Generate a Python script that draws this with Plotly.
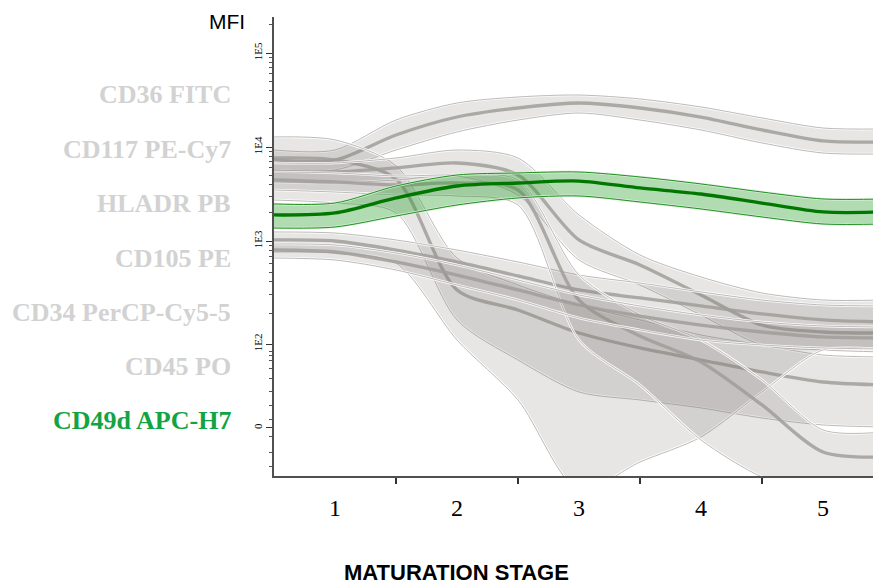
import plotly.graph_objects as go

# Maturation stages (x positions sampled every half stage)
stage_pos = [0.5, 1, 1.5, 2, 2.5, 3, 3.5, 4, 4.5, 5, 5.5]
stage_labels = ["1", "2", "3", "4", "5"]

# Values on the cytometry display scale (decades: 3 = 1E3, 4 = 1E4 ...)
cd36_up  = [3.968, 3.968, 4.287, 4.468, 4.532, 4.553, 4.511, 4.426, 4.309, 4.202, 4.192]
cd36_mid = [3.862, 3.862, 4.128, 4.319, 4.415, 4.468, 4.415, 4.319, 4.181, 4.064, 4.053]
cd36_lo  = [3.756, 3.756, 3.968, 4.160, 4.287, 4.362, 4.287, 4.181, 4.043, 3.936, 3.926]

cd34_up  = [4.107, 4.075, 3.800, 2.819, 2.532, 2.319, 2.160, 2.000, 1.894, 1.787, 1.766]
cd34_mid = [3.883, 3.862, 3.660, 2.479, 2.266, 2.021, 1.862, 1.734, 1.607, 1.500, 1.468]
cd34_lo  = [3.436, 3.404, 3.300, 2.160, 1.734, 1.394, 1.309, 1.224, 1.117, 1.043, 1.021]

cd105_up  = [3.830, 3.830, 3.883, 3.968, 3.883, 3.277, 2.851, 2.617, 2.447, 2.372, 2.372]
cd105_mid = [3.734, 3.734, 3.777, 3.830, 3.702, 3.011, 2.745, 2.426, 2.106, 2.032, 2.021]
cd105_lo  = [3.628, 3.617, 3.649, 3.692, 3.490, 2.798, 2.532, 2.213, 1.894, 1.841, 1.819]

cd45_up  = [3.096, 3.085, 3.011, 2.904, 2.777, 2.638, 2.553, 2.458, 2.372, 2.319, 2.309]
cd45_mid = [3.011, 3.000, 2.904, 2.777, 2.628, 2.479, 2.394, 2.309, 2.224, 2.160, 2.138]
cd45_lo  = [2.883, 2.872, 2.766, 1.947, 1.309, 0.351, 0.649, 0.915, 1.394, 1.841, 1.841]

cd117_up  = [3.734, 3.724, 3.692, 3.702, 3.649, 2.638, 2.213, 1.947, 1.522, 0.990, 0.968]
cd117_mid = [3.649, 3.628, 3.596, 3.617, 3.543, 2.372, 1.989, 1.713, 1.256, 0.756, 0.702]
cd117_lo  = [3.543, 3.521, 3.490, 3.479, 3.383, 1.947, 1.468, 0.883, 0.489, 0.298, 0.245]

hladr_up  = [2.968, 2.958, 2.872, 2.745, 2.585, 2.426, 2.309, 2.213, 2.138, 2.096, 2.085]
hladr_mid = [2.904, 2.883, 2.777, 2.638, 2.479, 2.319, 2.202, 2.106, 2.032, 1.979, 1.968]
hladr_lo  = [2.819, 2.798, 2.692, 2.532, 2.372, 2.181, 2.054, 1.947, 1.894, 1.862, 1.851]

cd49d_up  = [3.394, 3.404, 3.585, 3.702, 3.724, 3.734, 3.681, 3.607, 3.521, 3.447, 3.447]
cd49d_mid = [3.277, 3.298, 3.458, 3.585, 3.617, 3.638, 3.564, 3.500, 3.404, 3.309, 3.309]
cd49d_lo  = [3.138, 3.149, 3.266, 3.383, 3.458, 3.479, 3.415, 3.341, 3.256, 3.181, 3.181]

marker_names = ["CD36 FITC", "CD117 PE-Cy7", "HLADR PB", "CD105 PE",
                "CD34 PerCP-Cy5-5", "CD45 PO", "CD49d APC-H7"]

# y axis ticks (display scale)
ytick_vals = [1.011, 1.904, 3, 4, 5]
ytick_text = ["0", "1E2", "1E3", "1E4", "1E5"]
yminor_vals = ([0.596, 0.745, 0.915, 1.103, 1.255, 1.397, 1.540, 1.646, 1.727, 1.780, 1.822]
               + [2.234, 2.427, 2.564, 2.670, 2.757, 2.830, 2.894, 2.950]
               + [3.301, 3.477, 3.602, 3.699, 3.778, 3.845, 3.903, 3.954]
               + [4.301, 4.477, 4.602, 4.699, 4.778, 4.845, 4.903, 4.954]
               + [5.301])

fig = go.Figure()
SM = 0.8


def add_band(lo, mid, up, fill, edge, halo, med_col, med_w):
    common = dict(x=stage_pos, mode="lines", hoverinfo="skip", showlegend=False)
    fig.add_trace(go.Scatter(y=lo, line=dict(width=0, shape="spline", smoothing=SM), **common))
    fig.add_trace(go.Scatter(y=up, fill="tonexty", fillcolor=fill,
                             line=dict(width=0, shape="spline", smoothing=SM), **common))
    for e in (lo, up):
        fig.add_trace(go.Scatter(y=e, line=dict(width=2.6, color=halo, shape="spline", smoothing=SM), **common))
        fig.add_trace(go.Scatter(y=e, line=dict(width=1, color=edge, shape="spline", smoothing=SM), **common))
    fig.add_trace(go.Scatter(y=mid, line=dict(width=med_w, color=med_col, shape="spline", smoothing=SM), **common))


gfill = "rgba(128,122,116,0.19)"
gedge = "#bdbbb9"
ghalo = "rgba(255,255,255,0.9)"
gmed = "rgba(160,157,153,0.85)"

for lo, mid, up in [(cd36_lo, cd36_mid, cd36_up), (cd34_lo, cd34_mid, cd34_up),
                    (cd105_lo, cd105_mid, cd105_up), (cd45_lo, cd45_mid, cd45_up),
                    (cd117_lo, cd117_mid, cd117_up), (hladr_lo, hladr_mid, hladr_up)]:
    add_band(lo, mid, up, gfill, gedge, ghalo, gmed, 3.3)

add_band(cd49d_lo, cd49d_mid, cd49d_up, "rgba(40,155,40,0.36)", "#1f8f1f",
         "rgba(220,240,220,0.9)", "#007800", 3.3)

# left-hand marker labels
label_y_px = [95, 149, 203, 258, 312, 366, 420]
PLOT_L, PLOT_R, PLOT_T, PLOT_B = 274, 873, 17, 476
W, H = PLOT_R - PLOT_L, PLOT_B - PLOT_T
for name, ypx in zip(marker_names, label_y_px):
    col = "#12a444" if name.startswith("CD49d") else "#d2d2d2"
    fig.add_annotation(x=(233 - PLOT_L) / W, y=(PLOT_B - ypx) / H, xref="paper", yref="paper",
                       text="<b>%s</b>" % name, showarrow=False, xanchor="right", yanchor="middle",
                       font=dict(family="Liberation Serif", size=26, color=col))

fig.add_annotation(x=(247 - PLOT_L) / W, y=(PLOT_B - 21) / H, xref="paper", yref="paper",
                   text="MFI", showarrow=False, xanchor="right", yanchor="middle",
                   font=dict(family="Liberation Sans", size=21, color="black"))
fig.add_annotation(x=(456 - PLOT_L) / W, y=(PLOT_B - 572) / H, xref="paper", yref="paper",
                   text="<b>MATURATION STAGE</b>", showarrow=False, xanchor="center", yanchor="middle",
                   font=dict(family="Liberation Sans", size=22, color="black"))

fig.update_layout(
    width=873, height=587,
    margin=dict(l=PLOT_L, r=0, t=PLOT_T, b=587 - PLOT_B, pad=0),
    paper_bgcolor="white", plot_bgcolor="white",
    xaxis=dict(range=[0.5, 0.5 + W / 122.0], tickvals=[1, 2, 3, 4, 5], ticktext=stage_labels,
               ticks="", showgrid=False, zeroline=False, showline=True, linecolor="#505050",
               linewidth=2, ticklabelstandoff=9,
               tickfont=dict(family="Liberation Serif", size=24, color="black"),
               minor=dict(tickvals=[1.5, 2.5, 3.5, 4.5], ticks="outside", ticklen=6,
                          tickcolor="#333", tickwidth=1.5, showgrid=False)),
    yaxis=dict(range=[0.5, 0.5 + H / 94.0], tickvals=ytick_vals, ticktext=ytick_text,
               ticks="outside", ticklen=6, tickcolor="#333", tickwidth=1.2,
               tickangle=-90, showgrid=False, zeroline=False, showline=True,
               linecolor="#505050", linewidth=2,
               tickfont=dict(family="Liberation Serif", size=11, color="black"),
               minor=dict(tickvals=yminor_vals, ticks="outside", ticklen=3,
                          tickcolor="#555", tickwidth=1, showgrid=False)),
)

fig.write_html("out.html")
